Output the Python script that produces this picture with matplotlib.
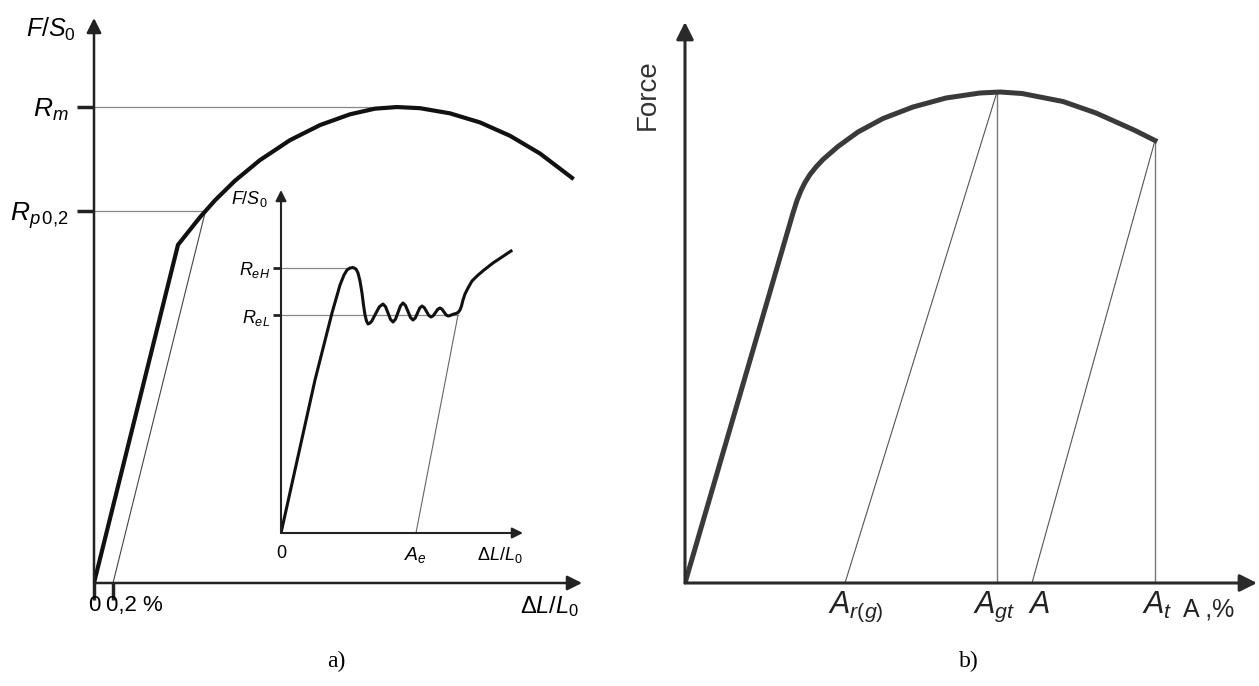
import matplotlib.pyplot as plt
import matplotlib.transforms as mtransforms

W, H = 1259, 686

plt.rcParams['font.family'] = ['Liberation Sans', 'DejaVu Sans']
plt.rcParams['mathtext.fontset'] = 'custom'
plt.rcParams['mathtext.rm'] = 'Liberation Sans'
plt.rcParams['mathtext.it'] = 'Liberation Sans:italic'
plt.rcParams['mathtext.bf'] = 'Liberation Sans:bold'

# ---- panel a), main diagram: strain in %, stress in MPa
strain_a = [0, 0.884, 1.116, 1.274, 1.484, 1.747, 2.063, 2.379, 2.695,
            2.958, 3.189, 3.432, 3.747, 4.063, 4.379, 4.695, 5.032]
stress_a = [0, 354.3, 383.3, 401.0, 421.5, 443.1, 464.0, 479.8, 491.1,
            497.0, 498.7, 497.5, 492.1, 482.6, 468.6, 450.0, 424.5]
rm = 498.7
rm_strain = 3.189
rp02 = 390
rp_strain = 1.174
offset_strain = 0.2

# ---- panel a), inset: yield point elongation (arbitrary units)
strain_i = [0, 34, 51, 59, 63, 66, 69, 72, 75, 77, 79, 81, 82.5, 84, 85.5,
            87, 89, 90.75, 94.5, 98.25, 102, 104.5, 107, 109.5, 112, 114.5,
            117, 119.5, 122, 124.5, 127, 129.5, 132, 134.25, 136.5, 138.75,
            141, 143.25, 145.5, 147.75, 150, 152.25, 154.5, 156.75, 159,
            161, 163, 165, 167, 169, 171, 173, 175, 177, 179, 180.5, 182,
            184, 187, 191, 196, 203, 212, 221, 230]
stress_i = [0, 153, 220, 248, 258, 263, 265, 265.5, 264, 260, 252, 240, 228,
            218, 212, 209, 210, 211.9, 219, 226.1, 229, 226.4, 220, 213.6,
            211, 213.8, 220.5, 227.2, 230, 227.5, 221.5, 215.5, 213, 215,
            220, 225, 227, 225.4, 221.5, 217.6, 216, 217.3, 220.5, 223.7,
            225, 223.8, 221, 218.2, 217, 217.4, 218.3, 219, 219.5, 220.5,
            223, 227, 233, 239, 245, 252, 257, 263, 270, 276, 282]
reh, reh_x = 265.5, 72
rel, rel_x = 218, 177
ae = 135

# ---- panel b): elongation in %, force in kN
elong_b = [0, 5.4, 5.6, 5.8, 6.0, 6.25, 6.55, 6.9, 7.65, 8.65, 9.9, 11.4,
           13.05, 14.75, 15.75, 16.85, 18.9, 20.55, 22.45, 23.5]
force_b = [0, 74.0, 76.5, 78.5, 80.1, 81.7, 83.2, 84.7, 87.3, 90.2, 92.9,
           95.2, 97.0, 98.0, 98.2, 97.9, 96.3, 94.0, 90.6, 88.5]
a_rg = 8.0
a_gt = 15.6
f_max = 98.2
a_plastic = 17.35
a_t = 23.5
f_break = 88.5


def px_axes(left, top, right, bottom):
    return plt.gcf().add_axes([left / W, (H - bottom) / H,
                               (right - left) / W, (bottom - top) / H])


def bare(ax):
    ax.patch.set_visible(False)
    for s in ax.spines.values():
        s.set_visible(False)


def arrows(ax, color, lw, scale):
    for tip in [(1, 0), (0, 1)]:
        ax.annotate('', xy=tip, xytext=(0, 0), xycoords='axes fraction',
                    annotation_clip=False,
                    arrowprops=dict(arrowstyle='-|>', color=color, lw=lw,
                                    mutation_scale=scale, shrinkA=0, shrinkB=0))


fig = plt.figure(figsize=(W / 100, H / 100), dpi=100)

# main a)
ax = px_axes(94, 18, 582, 583)
bare(ax)
ax.set_xlim(0, 5.137)
ax.set_ylim(0, 592)
ax.plot([0, rm_strain], [rm, rm], color='#888888', lw=0.9)
ax.plot([0, rp_strain], [rp02, rp02], color='#888888', lw=0.9)
ax.plot([offset_strain, rp_strain], [0, rp02], color='#444444', lw=0.8)
ax.plot(strain_a, stress_a, color='#111111', lw=3, solid_joinstyle='round')
arrows(ax, '#222222', 1.8, 22)
ax.set_yticks([rp02, rm])
ax.set_yticklabels([r'$R_{p\,0{,}2}$', r'$R_m$'])
ax.set_xticks([0, offset_strain])
ax.set_xticklabels([])
ax.tick_params(axis='both', length=12, width=2.5, color='#222222',
               labelsize=19, pad=6)
trans = mtransforms.blended_transform_factory(ax.transData, ax.transAxes)
ax.text(0, -0.022, '0', transform=trans, ha='center', va='top', fontsize=16)
ax.text(0.13, -0.022, '0,2 %', transform=trans, ha='left', va='top',
        fontsize=16)
ax.text(4.8, -0.02, r'$\Delta L/L_0$', transform=trans, ha='center',
        va='top', fontsize=17)
ax.text(-0.038, 0.98, r'$F/S_0$', transform=ax.transAxes, ha='right',
        va='center', fontsize=18)

# inset
ai = px_axes(281, 190, 523, 533)
bare(ai)
ai.set_xlim(0, 242)
ai.set_ylim(0, 343)
ai.plot([0, reh_x], [reh, reh], color='#888888', lw=0.9)
ai.plot([0, rel_x], [rel, rel], color='#888888', lw=0.9)
ai.plot([ae, rel_x], [0, rel], color='#666666', lw=0.8)
ai.plot(strain_i, stress_i, color='#111111', lw=2.2, solid_joinstyle='round')
arrows(ai, '#222222', 1.5, 16)
ai.set_yticks([rel, reh])
ai.set_yticklabels([r'$R_{eL}$', r'$R_{eH}$'])
ai.set_xticks([])
ai.tick_params(axis='y', length=6, width=2, color='#222222', labelsize=13,
               pad=2)
ti = mtransforms.blended_transform_factory(ai.transData, ai.transAxes)
ai.text(0, -0.035, '0', transform=ti, ha='center', va='top', fontsize=13)
ai.text(ae, -0.035, r'$A_e$', transform=ti, ha='center', va='top',
        fontsize=14)
ai.text(219, -0.035, r'$\Delta L/L_0$', transform=ti, ha='center', va='top',
        fontsize=13)
ai.text(-0.13, 0.975, r'$F/S_0$', transform=ai.transAxes, ha='center',
        va='center', fontsize=13)

# panel b)
ab = px_axes(685, 22, 1257, 583)
bare(ab)
ab.set_xlim(0, 28.6)
ab.set_ylim(0, 112.2)
ab.plot([a_rg, a_gt], [0, f_max], color='#555555', lw=0.8)
ab.plot([a_gt, a_gt], [0, f_max], color='#777777', lw=1.0)
ab.plot([a_plastic, a_t], [0, f_break], color='#555555', lw=0.8)
ab.plot([a_t, a_t], [0, f_break], color='#777777', lw=1.0)
ab.plot(elong_b, force_b, color='#3a3a3a', lw=3.6, solid_joinstyle='round')
arrows(ab, '#2a2a2a', 2.2, 26)
ab.set_xticks([])
ab.set_yticks([])
tb = mtransforms.blended_transform_factory(ab.transData, ab.transAxes)
ab.text(7.15, -0.012, r'$A_{r(g)}$', transform=tb, ha='left', va='top',
        fontsize=22, color='#222222')
ab.text(14.4, -0.012, r'$A_{gt}$', transform=tb, ha='left', va='top',
        fontsize=22, color='#222222')
ab.text(17.15, -0.012, r'$A$', transform=tb, ha='left', va='top',
        fontsize=22, color='#222222')
ab.text(22.85, -0.012, r'$A_t$', transform=tb, ha='left', va='top',
        fontsize=22, color='#222222')
ab.text(24.9, -0.025, 'A ,%', transform=tb, ha='left', va='top',
        fontsize=18, color='#222222')
ab.text(-0.065, 0.87, 'Force', transform=ab.transAxes, rotation=90,
        ha='center', va='center', fontsize=20, color='#333333')

fig.text(336 / W, 1 - 661 / H, 'a)', family='Liberation Serif', fontsize=17,
         ha='center', va='center')
fig.text(969 / W, 1 - 661 / H, 'b)', family='Liberation Serif', fontsize=17,
         ha='center', va='center')

fig.savefig('out.png', dpi=100)
